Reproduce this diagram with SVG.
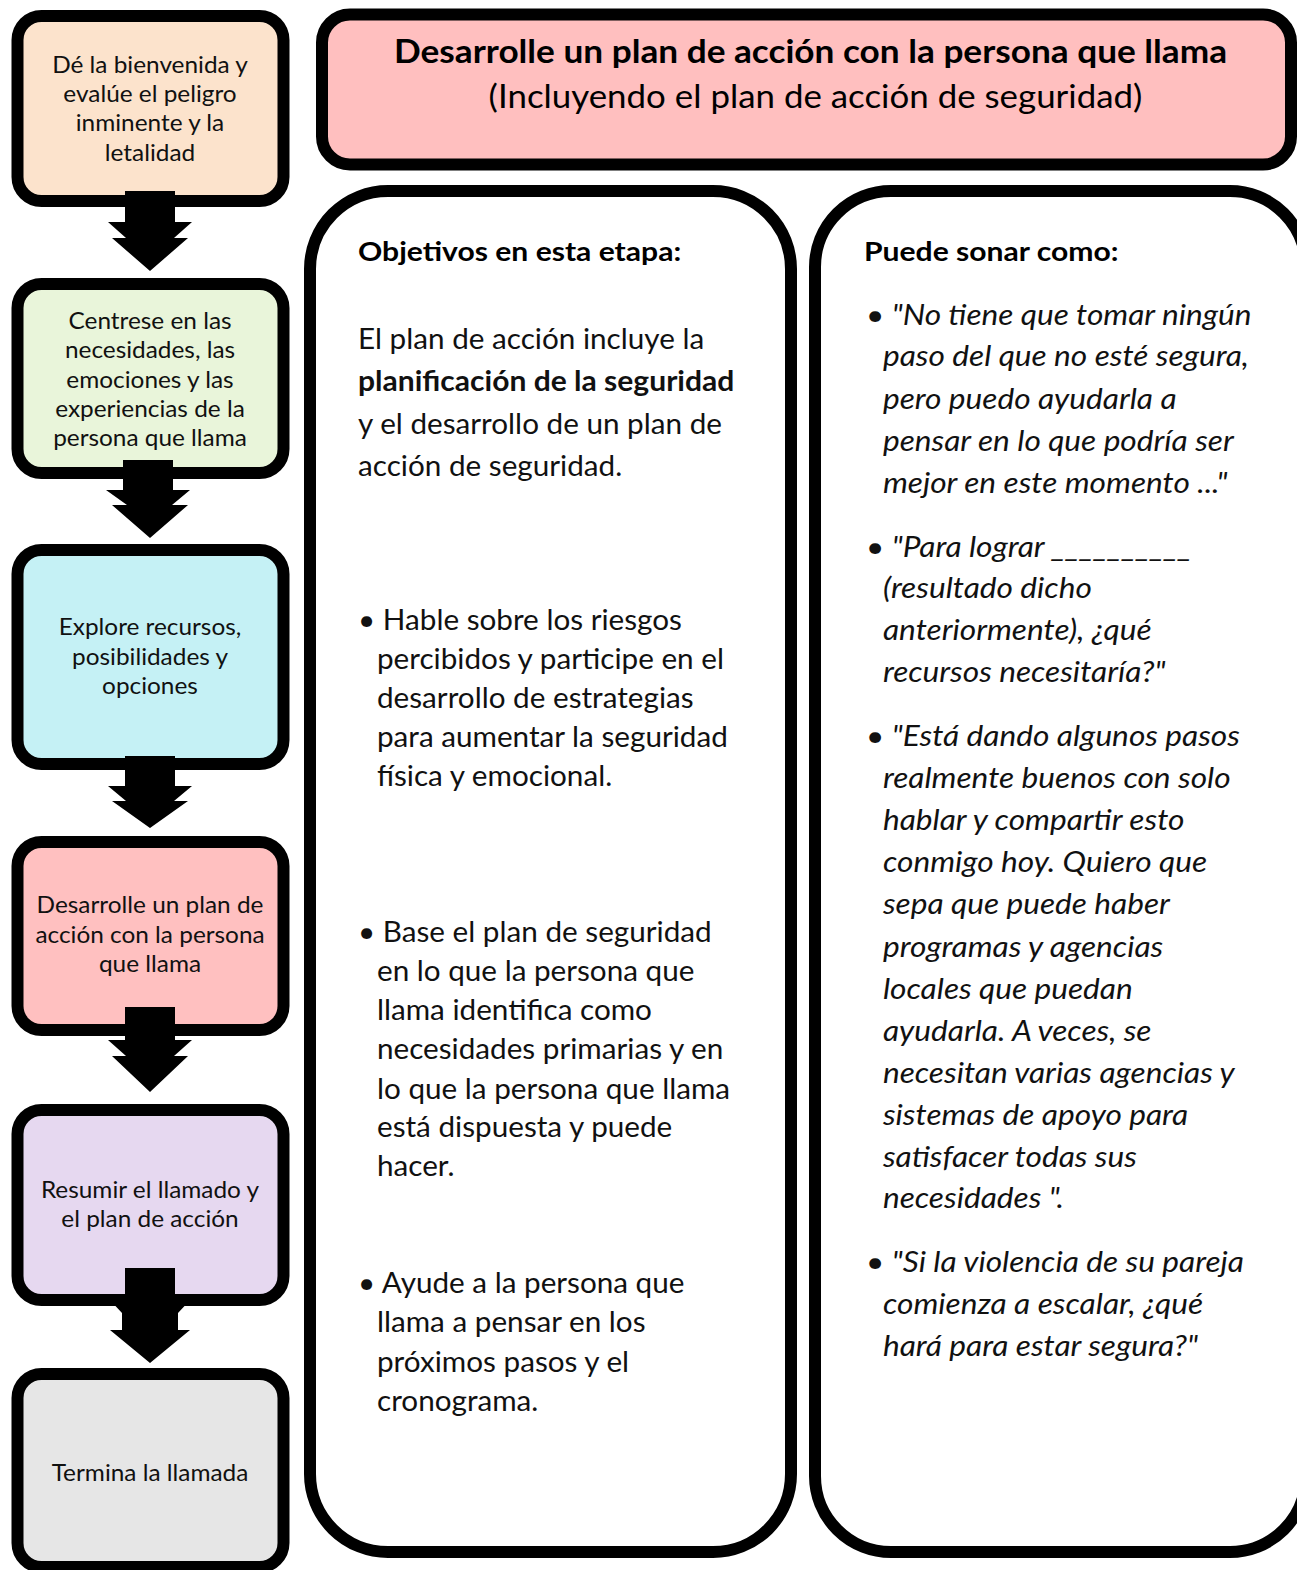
<svg xmlns="http://www.w3.org/2000/svg" width="1297" height="1570" viewBox="0 0 1297 1570">
<style>
.box{stroke:#000;stroke-width:12;}
.lt{font-family:Lato,"Liberation Sans",sans-serif;font-size:23px;fill:#111;text-anchor:middle;}
.tt{font-family:Lato,"Liberation Sans",sans-serif;fill:#000;text-anchor:middle;font-size:32px;}
.mt{font-family:Lato,"Liberation Sans",sans-serif;font-size:28px;fill:#111;}
.it{font-family:Lato,"Liberation Sans",sans-serif;font-size:28px;fill:#111;font-style:italic;}
.hd{font-family:Lato,"Liberation Sans",sans-serif;font-size:27px;font-weight:bold;fill:#000;}
.arr{fill:#000;}
</style>
<rect width="1297" height="1570" fill="#fff"/>
<g id="step1"><rect class="box" x="17.5" y="16" width="266" height="185" rx="24" fill="#FCE3CC"/>
<g transform="translate(150,0) scale(1.06,1)"><text class="lt" x="0" y="73">Dé la bienvenida y</text><text class="lt" x="0" y="102">evalúe el peligro</text><text class="lt" x="0" y="131">inminente y la</text><text class="lt" x="0" y="161">letalidad</text></g></g>
<g id="step2"><rect class="box" x="17.5" y="284" width="266" height="189" rx="24" fill="#E9F5DA"/>
<g transform="translate(150,0) scale(1.06,1)"><text class="lt" x="0" y="329">Centrese en las</text><text class="lt" x="0" y="358">necesidades, las</text><text class="lt" x="0" y="388">emociones y las</text><text class="lt" x="0" y="417">experiencias de la</text><text class="lt" x="0" y="446">persona que llama</text></g></g>
<g id="step3"><rect class="box" x="17.5" y="550" width="266" height="214" rx="24" fill="#C5F1F5"/>
<g transform="translate(150,0) scale(1.06,1)"><text class="lt" x="0" y="635">Explore recursos,</text><text class="lt" x="0" y="665">posibilidades y</text><text class="lt" x="0" y="694">opciones</text></g></g>
<g id="step4"><rect class="box" x="17.5" y="842" width="266" height="188" rx="24" fill="#FFC0C0"/>
<g transform="translate(150,0) scale(1.06,1)"><text class="lt" x="0" y="913">Desarrolle un plan de</text><text class="lt" x="0" y="943">acción con la persona</text><text class="lt" x="0" y="972">que llama</text></g></g>
<g id="step5"><rect class="box" x="17.5" y="1110" width="266" height="190" rx="24" fill="#E6D8F0"/>
<g transform="translate(150,0) scale(1.06,1)"><text class="lt" x="0" y="1198">Resumir el llamado y</text><text class="lt" x="0" y="1227">el plan de acción</text></g></g>
<g id="step6"><rect class="box" x="17.5" y="1374" width="266" height="193" rx="24" fill="#E6E6E6"/>
<g transform="translate(150,0) scale(1.06,1)"><text class="lt" x="0" y="1481">Termina la llamada</text></g></g>
<g id="connectors">
<path class="arr" d="M125,191H175V222H192L174,238H188L150,271L112,238H126L108,222H125Z"/>
<path class="arr" d="M123,460H173V490H190L172,505H188L150,538L112,505H127L106,490H123Z"/>
<path class="arr" d="M125,756H175V786H192L174,801H188L150,828L112,801H126L108,786H125Z"/>
<path class="arr" d="M125,1007H175V1040H192L174,1056H188L150,1092L112,1056H126L108,1040H125Z"/>
<path class="arr" d="M125,1268H175V1298H192L178,1313V1330H190L150,1363L110,1330H122V1313L108,1298H125Z"/>
</g>
<g id="title"><rect class="box" x="322" y="14.5" width="969" height="150" rx="28" fill="#FFBFBF"/>
<g transform="translate(810.5,0) scale(1.1,1)"><text class="tt" x="0" y="63" font-weight="bold">Desarrolle un plan de acción con la persona que llama</text></g>
<g transform="translate(815.5,0) scale(1.09,1)"><text class="tt" x="0" y="108">(Incluyendo el plan de acción de seguridad)</text></g></g>
<g id="objetivos"><rect class="box" x="310" y="191" width="481" height="1361" rx="78" fill="#fff"/>
<g transform="translate(358,0) scale(1.115,1)"><text class="hd" x="0" y="261">Objetivos en esta etapa:</text></g>
<g transform="translate(358,0) scale(1.06,1)">
<text class="mt" x="0" y="349">El plan de acción incluye la</text>
<text class="mt" x="0" y="391" font-weight="bold" textLength="355" lengthAdjust="spacingAndGlyphs">planificación de la seguridad</text>
<text class="mt" x="0" y="434">y el desarrollo de un plan de</text>
<text class="mt" x="0" y="476">acción de seguridad.</text>
<text class="mt" x="0" y="630">• Hable sobre los riesgos</text>
<text class="mt" x="17.9" y="669">percibidos y participe en el</text>
<text class="mt" x="17.9" y="708">desarrollo de estrategias</text>
<text class="mt" x="17.9" y="747">para aumentar la seguridad</text>
<text class="mt" x="17.9" y="786">física y emocional.</text>
<text class="mt" x="0" y="942">• Base el plan de seguridad</text>
<text class="mt" x="17.9" y="981">en lo que la persona que</text>
<text class="mt" x="17.9" y="1020">llama identifica como</text>
<text class="mt" x="17.9" y="1059">necesidades primarias y en</text>
<text class="mt" x="17.9" y="1099">lo que la persona que llama</text>
<text class="mt" x="17.9" y="1137">está dispuesta y puede</text>
<text class="mt" x="17.9" y="1176">hacer.</text>
<text class="mt" x="0" y="1293">• Ayude a la persona que</text>
<text class="mt" x="17.9" y="1332">llama a pensar en los</text>
<text class="mt" x="17.9" y="1372">próximos pasos y el</text>
<text class="mt" x="17.9" y="1411">cronograma.</text>
</g></g>
<g id="ejemplos"><rect class="box" x="815" y="191" width="491" height="1361" rx="76" fill="#fff"/>
<g transform="translate(864,0) scale(1.115,1)"><text class="hd" x="0" y="261">Puede sonar como:</text></g>
<g transform="translate(866,0) scale(1.13,1)">
<text class="it" x="0" y="325">• "No tiene que tomar ningún</text>
<text class="it" x="15" y="366">paso del que no esté segura,</text>
<text class="it" x="15" y="409">pero puedo ayudarla a</text>
<text class="it" x="15" y="451">pensar en lo que podría ser</text>
<text class="it" x="15" y="493">mejor en este momento ..."</text>
<text class="it" x="0" y="557">• "Para lograr __________</text>
<text class="it" x="15" y="598">(resultado dicho</text>
<text class="it" x="15" y="640">anteriormente), ¿qué</text>
<text class="it" x="15" y="682">recursos necesitaría?"</text>
<text class="it" x="0" y="746">• "Está dando algunos pasos</text>
<text class="it" x="15" y="788">realmente buenos con solo</text>
<text class="it" x="15" y="830">hablar y compartir esto</text>
<text class="it" x="15" y="872">conmigo hoy. Quiero que</text>
<text class="it" x="15" y="914">sepa que puede haber</text>
<text class="it" x="15" y="957">programas y agencias</text>
<text class="it" x="15" y="999">locales que puedan</text>
<text class="it" x="15" y="1041">ayudarla. A veces, se</text>
<text class="it" x="15" y="1083">necesitan varias agencias y</text>
<text class="it" x="15" y="1125">sistemas de apoyo para</text>
<text class="it" x="15" y="1167">satisfacer todas sus</text>
<text class="it" x="15" y="1208">necesidades ".</text>
<text class="it" x="0" y="1272">• "Si la violencia de su pareja</text>
<text class="it" x="15" y="1314">comienza a escalar, ¿qué</text>
<text class="it" x="15" y="1356">hará para estar segura?"</text>
</g></g>
</svg>
